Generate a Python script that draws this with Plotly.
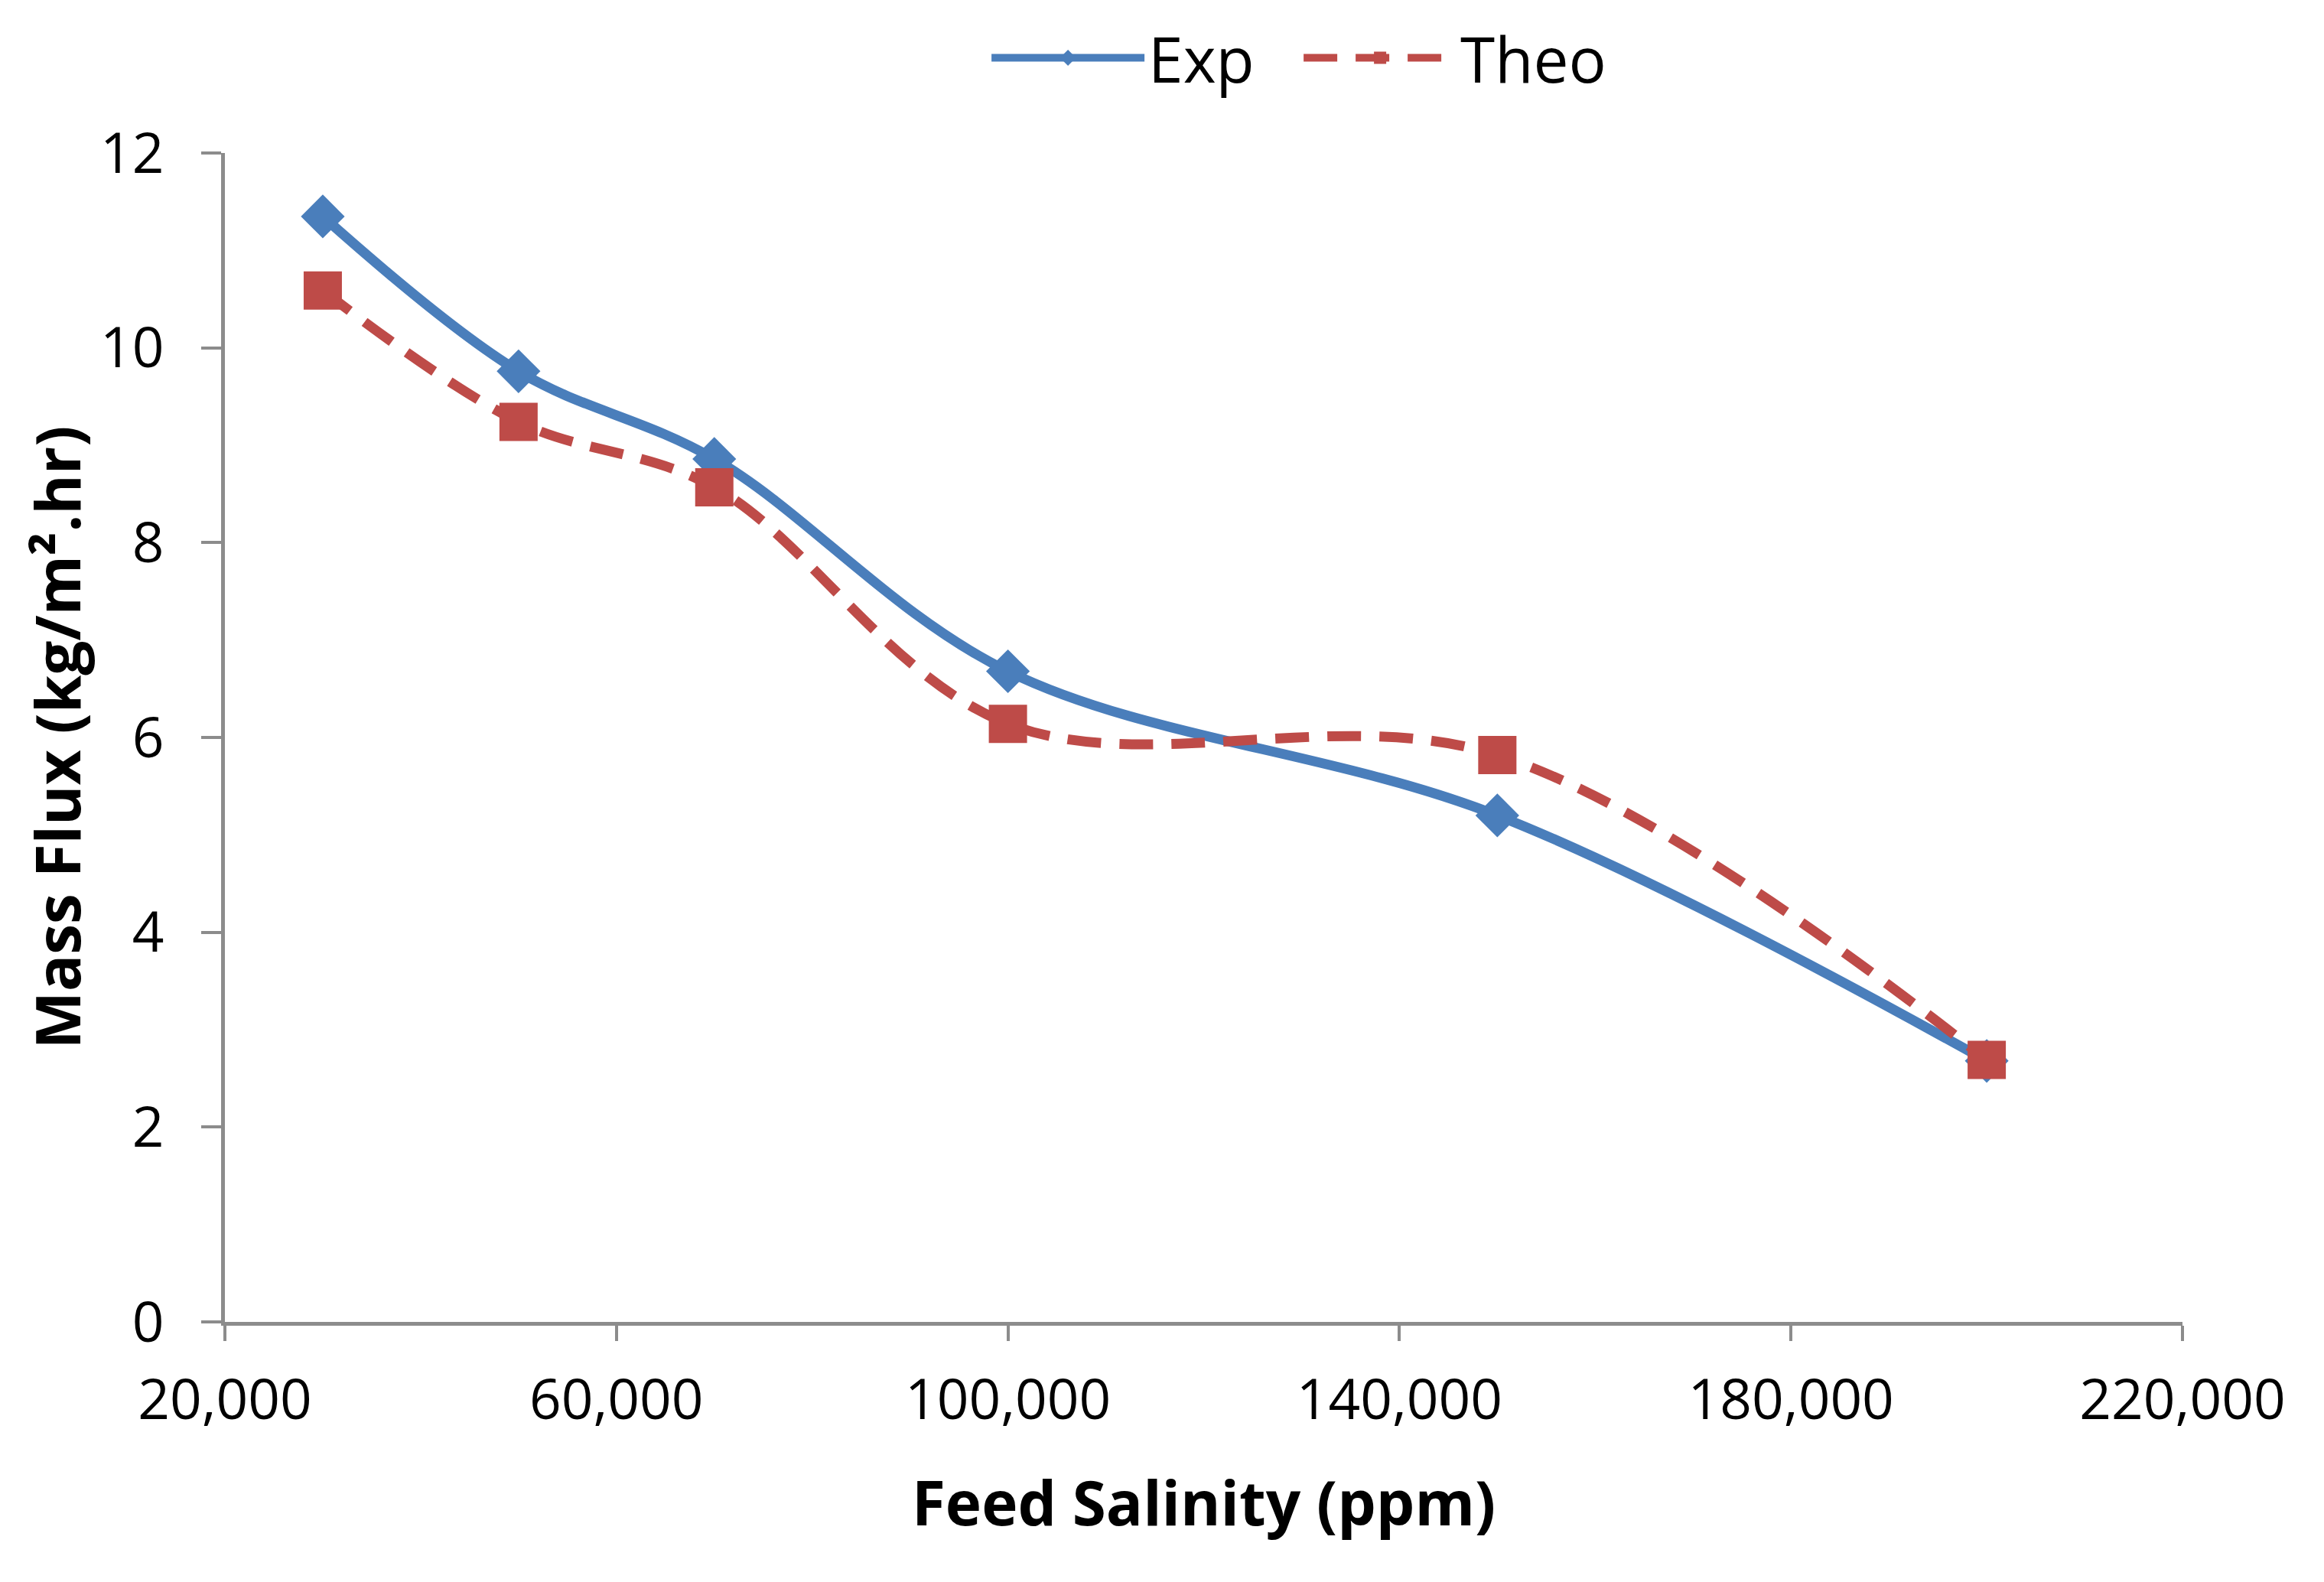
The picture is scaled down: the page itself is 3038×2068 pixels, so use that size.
import plotly.graph_objects as go

salinity = [30000, 50000, 70000, 100000, 150000, 200000]
exp_flux = [11.35, 9.76, 8.86, 6.68, 5.2, 2.68]
theo_flux = [10.59, 9.24, 8.57, 6.14, 5.82, 2.69]

x_ticks = [20000, 60000, 100000, 140000, 180000, 220000]
y_ticks = [0, 2, 4, 6, 8, 10, 12]

BLUE = "#4A7EBB"
RED = "#BE4B48"
AXIS = "#8C8C8C"
FONT = "Open Sans"

fig = go.Figure()
fig.add_trace(go.Scatter(
    x=salinity, y=exp_flux, name="Exp", mode="lines+markers",
    line=dict(color=BLUE, width=13, shape="spline"),
    marker=dict(symbol="diamond", size=44, color=BLUE),
))
fig.add_trace(go.Scatter(
    x=salinity, y=theo_flux, name="Theo", mode="lines+markers",
    line=dict(color=RED, width=13, shape="spline", dash="44px,24px"),
    marker=dict(symbol="square", size=50, color=RED),
))

axis_common = dict(
    showline=True, linecolor=AXIS, linewidth=5,
    ticks="outside", tickwidth=4, tickcolor=AXIS,
    showgrid=False, zeroline=False,
    tickfont=dict(family=FONT, size=73, color="#000000"),
)

fig.update_xaxes(
    range=[20000, 220000], tickvals=x_ticks,
    ticktext=[f"{v:,}" for v in x_ticks],
    ticklen=20,
    title=dict(text="<b>Feed Salinity (ppm)</b>", font=dict(family=FONT, size=80, color="#000000"), standoff=65),
    ticklabelstandoff=14,
    **axis_common,
)
fig.update_yaxes(
    range=[0, 12], tickvals=y_ticks,
    ticklen=26,
    title=dict(text="<b>Mass Flux (kg/m².hr)</b>", font=dict(family=FONT, size=80, color="#000000"), standoff=0),
    ticklabelstandoff=34,
    **axis_common,
)

fig.update_layout(
    width=3022, height=2052,
    margin=dict(l=286, r=177, t=175, b=332),
    paper_bgcolor="white", plot_bgcolor="white",
    showlegend=True,
    legend=dict(
        orientation="h", x=0.5596, xanchor="center", xref="container",
        y=0.967, yanchor="middle", yref="container",
        font=dict(family=FONT, size=82, color="#000000"),
        itemwidth=200, entrywidth=193, entrywidthmode="pixels",
        bgcolor="rgba(0,0,0,0)",
    ),
)

fig.write_html("out.html")
